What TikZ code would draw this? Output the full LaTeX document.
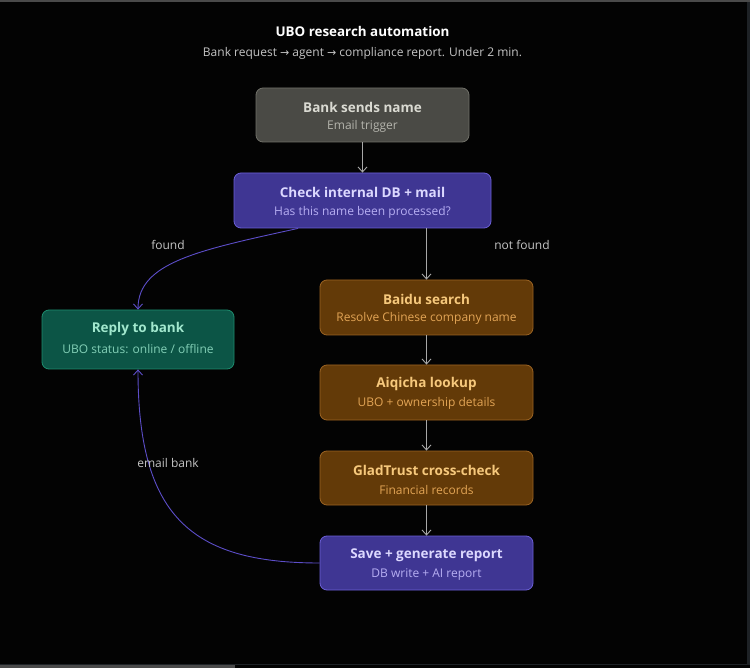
\documentclass[tikz,border=0pt]{standalone}
\usepackage{fontspec}
\setmainfont{Open Sans}
\newfontfamily\symfont{DejaVu Sans}
\usetikzlibrary{arrows.meta,calc}
\definecolor{bgc}{HTML}{030303}
\definecolor{grayfill}{HTML}{4A4A45}
\definecolor{grayline}{HTML}{707068}
\definecolor{graytitle}{HTML}{DADAD2}
\definecolor{graysub}{HTML}{B4B4AC}
\definecolor{purfill}{HTML}{3F3693}
\definecolor{purline}{HTML}{6B5FD6}
\definecolor{purtitle}{HTML}{DCD8FF}
\definecolor{pursub}{HTML}{B6AEF2}
\definecolor{tealfill}{HTML}{0C5546}
\definecolor{tealline}{HTML}{1D8C6E}
\definecolor{tealtitle}{HTML}{A2E8CE}
\definecolor{tealsub}{HTML}{82CFB6}
\definecolor{brfill}{HTML}{633A08}
\definecolor{brline}{HTML}{9B6322}
\definecolor{brtitle}{HTML}{F6C87C}
\definecolor{brsub}{HTML}{E2A455}
\definecolor{arrgray}{HTML}{A8A8A8}
\definecolor{arrpur}{HTML}{5C4DC8}
\definecolor{lblgray}{HTML}{C4C4C4}
\definecolor{frameline}{HTML}{1E2226}
\definecolor{scrollc}{HTML}{4A4A4A}
\begin{document}
\begin{tikzpicture}[x=1pt,y=-1pt,
  box/.style={rounded corners=7pt, line width=0.8pt, minimum height=55pt, inner sep=0pt, align=center},
  graybox/.style={box, fill=grayfill, draw=grayline},
  purbox/.style={box, fill=purfill, draw=purline},
  tealbox/.style={box, fill=tealfill, draw=tealline},
  brbox/.style={box, fill=brfill, draw=brline},
  ttl/.style={font=\fontsize{13.5}{16}\selectfont\bfseries},
  sub/.style={font=\fontsize{12}{14}\selectfont},
  arr/.style={draw=arrgray, line width=0.9pt, -{Straight Barb[length=5pt,width=9pt]}},
  parr/.style={draw=arrpur, line width=0.9pt, -{Straight Barb[length=5pt,width=9pt]}},
  lbl/.style={text=lblgray, font=\fontsize{12}{14}\selectfont}
]
\fill[bgc] (0,0) rectangle (750,668);
\useasboundingbox (0,0) rectangle (750,668);
% screen frame artifacts
\fill[scrollc] (0,0) rectangle (750,2);
\fill[frameline] (747,2) rectangle (750,665);
\fill[frameline] (0,663.5) rectangle (750,665);
\fill[scrollc] (0,665) rectangle (235,668);

\node[text=white, font=\fontsize{13.4}{16}\selectfont\bfseries] (title) at (362.5,31) {UBO research automation};
\node[text=lblgray, font=\fontsize{12}{14}\selectfont] (subtitle) at (362.5,53) {Bank request {\symfont\fontsize{11}{14}\selectfont →} agent {\symfont\fontsize{11}{14}\selectfont →} compliance report. Under 2 min.};

\node[graybox, minimum width=213pt, minimum height=54pt] (bank) at (362.5,115) {};
\node[ttl, text=graytitle] (bankT) at (362.5,107) {Bank sends name};
\node[sub, text=graysub] (bankS) at (362.5,126) {Email trigger};

\node[purbox, minimum width=257pt] (check) at (362.5,200.5) {};
\node[ttl, text=purtitle] (checkT) at (362.5,192) {Check internal DB + mail};
\node[sub, text=pursub] (checkS) at (362.5,212) {Has this name been processed?};

\node[tealbox, minimum width=192pt, minimum height=59pt] (reply) at (138,339.5) {};
\node[ttl, text=tealtitle] (replyT) at (138,329) {Reply to bank};
\node[sub, text=tealsub] (replyS) at (138,349) {UBO status: online / offline};

\node[brbox, minimum width=213pt] (baidu) at (426.5,307.5) {};
\node[ttl, text=brtitle] (baiduT) at (426.5,299) {Baidu search};
\node[sub, text=brsub] (baiduS) at (426.5,318.5) {Resolve Chinese company name};

\node[brbox, minimum width=213pt] (aiqicha) at (426.5,392.5) {};
\node[ttl, text=brtitle] (aiqichaT) at (426.5,384) {Aiqicha lookup};
\node[sub, text=brsub] (aiqichaS) at (426.5,403.5) {UBO + ownership details};

\node[brbox, minimum width=213pt, minimum height=54pt] (glad) at (426.5,478) {};
\node[ttl, text=brtitle] (gladT) at (426.5,470) {GladTrust cross-check};
\node[sub, text=brsub] (gladS) at (426.5,489.5) {Financial records};

\node[purbox, minimum width=213pt, minimum height=54pt] (save) at (426.5,563) {};
\node[ttl, text=purtitle] (saveT) at (426.5,555) {Save + generate report};
\node[sub, text=pursub] (saveS) at (426.5,574.5) {DB write + AI report};

% straight arrows
\draw[arr] (bank.south) -- (check.north);
\draw[arr] (check.south -| baidu.north) -- (baidu.north);
\draw[arr] (baidu.south) -- (aiqicha.north);
\draw[arr] (aiqicha.south) -- (glad.north);
\draw[arr] (glad.south) -- (save.north);

% curved arrows
\coordinate (fstart) at ($(check.south west)!0.25!(check.south east)$);
\draw[parr] (fstart) .. controls (200,250) and (138,262) .. (reply.north);
\draw[parr] (save.west) .. controls (190,563) and (138,515) .. (reply.south);

\node[lbl] (found) at (168,245) {found};
\node[lbl] (notfound) at (522,245) {not found};
\node[lbl] (email) at (168,463) {email bank};
\end{tikzpicture}
\end{document}
